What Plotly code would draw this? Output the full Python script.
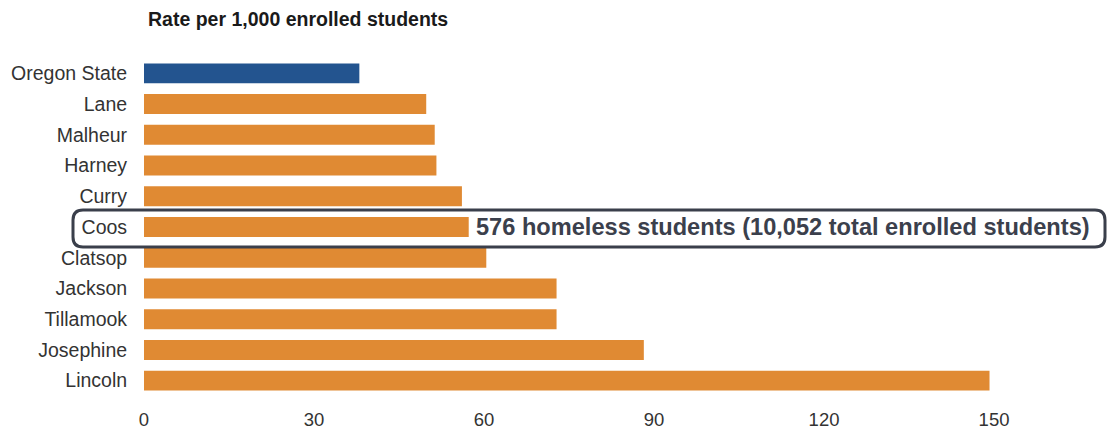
import plotly.graph_objects as go

counties = ["Oregon State", "Lane", "Malheur", "Harney", "Curry", "Coos",
            "Clatsop", "Jackson", "Tillamook", "Josephine", "Lincoln"]
rates = [38.0, 49.8, 51.3, 51.6, 56.1, 57.3, 60.4, 72.8, 72.8, 88.2, 149.2]
x_ticks = [0, 30, 60, 90, 120, 150]
highlight = "Coos"
highlight_text = "576 homeless students (10,052 total enrolled students)"
title_text = "Rate per 1,000 enrolled students"

BLUE = "#23548f"
ORANGE = "#e08a33"
bar_colors = [BLUE if c == "Oregon State" else ORANGE for c in counties]

FONT = "Liberation Sans, Arial, Helvetica, sans-serif"
TXT = "#333333"

fig = go.Figure(go.Bar(
    x=rates, y=counties, orientation="h",
    marker=dict(color=bar_colors, line=dict(width=0)),
    width=0.65, hoverinfo="skip",
))

W, H = 1113, 432
ML, MR, MT, MB = 144, 30, 58, 36
PW, PH = W - ML - MR, H - MT - MB

def px_x(px):
    return (px - ML) / PW

def px_y(py):
    return (H - MB - py) / PH

# rounded box around the highlighted row
x0, x1 = px_x(73), px_x(1105)
y0, y1 = px_y(247), px_y(210)
rx, ry = 10 / PW, 10 / PH
path = (f"M {x0+rx},{y1} L {x1-rx},{y1} Q {x1},{y1} {x1},{y1-ry} "
        f"L {x1},{y0+ry} Q {x1},{y0} {x1-rx},{y0} "
        f"L {x0+rx},{y0} Q {x0},{y0} {x0},{y0+ry} "
        f"L {x0},{y1-ry} Q {x0},{y1} {x0+rx},{y1} Z")

hi_val = rates[counties.index(highlight)]

fig.update_layout(
    width=W, height=H,
    margin=dict(l=ML, r=MR, t=MT, b=MB, autoexpand=False),
    paper_bgcolor="white", plot_bgcolor="white",
    showlegend=False,
    font=dict(family=FONT, color=TXT),
    xaxis=dict(range=[0, PW / 5.667], tickvals=x_ticks, showgrid=False,
               zeroline=False, showline=False, ticks="outside",
               ticklen=7, tickcolor="white", automargin=False,
               tickfont=dict(family=FONT, size=18.5, color=TXT)),
    yaxis=dict(autorange="reversed", showgrid=False, zeroline=False,
               showline=False, ticks="outside", ticklen=12,
               tickcolor="white", automargin=False,
               tickfont=dict(family=FONT, size=19.5, color=TXT)),
    shapes=[dict(type="path", path=path, xref="paper", yref="paper",
                 line=dict(color="#3a3f4b", width=3),
                 fillcolor="rgba(0,0,0,0)", layer="above")],
    annotations=[
        dict(x=hi_val, y=highlight, xref="x", yref="y",
             text=f"<b>{highlight_text}</b>", showarrow=False,
             xanchor="left", yanchor="middle", xshift=5,
             font=dict(family=FONT, size=23.6, color="#3b404c")),
        dict(x=px_x(146), y=px_y(19), xref="paper", yref="paper",
             text=f"<b>{title_text}</b>", showarrow=False,
             xanchor="left", yanchor="middle",
             font=dict(family=FONT, size=19.5, color="#1a1a1a")),
    ],
)

fig.write_html("out.html",
               config={"displayModeBar": False},
               post_script="document.body.style.margin='0';"
                           "document.body.style.overflow='hidden';")
